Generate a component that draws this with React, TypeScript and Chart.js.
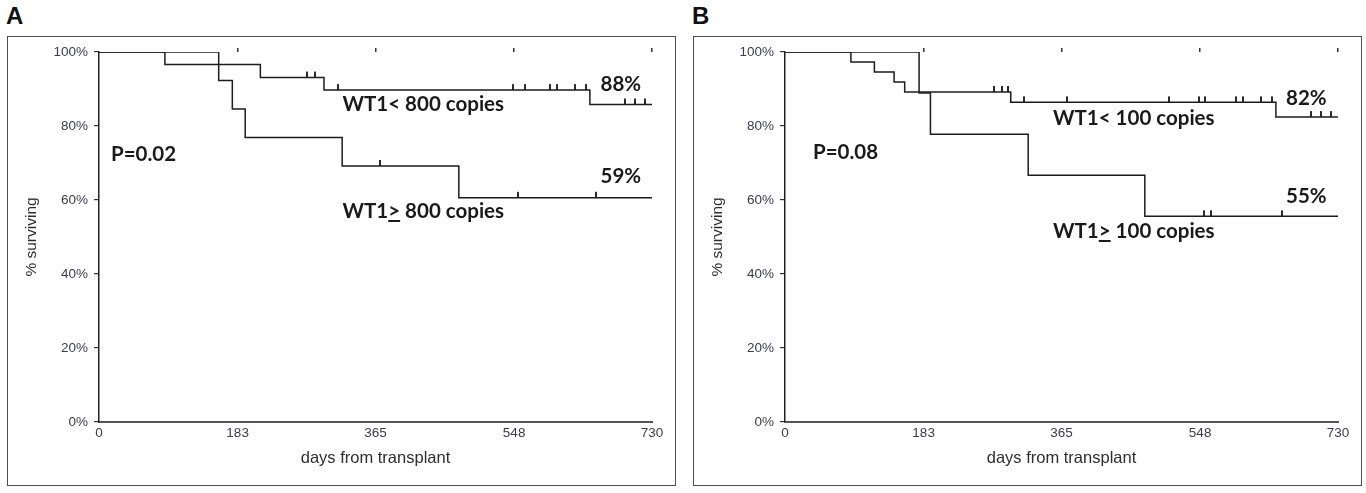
import React, { useEffect, useRef } from "react";
import { Chart, registerables } from "chart.js";

Chart.register(...registerables);

// ---------- data ----------
const X_TICKS = [0, 183, 365, 548, 730];
const X_MAX = 730;
const Y_STEP = 20;

// Panel A
const A_LOW_TIMES = [0, 87, 213, 297, 648, 730];
const A_LOW_SURV = [100, 96.6, 93.1, 89.7, 85.8, 85.8];
const A_LOW_CENSOR = [275, 285, 315, 547, 563, 595, 605, 629, 643, 694, 708, 721];
const A_HIGH_TIMES = [0, 158, 176, 193, 321, 475, 730];
const A_HIGH_SURV = [100, 92.3, 84.6, 76.9, 69.2, 60.6, 60.6];
const A_HIGH_CENSOR = [371, 553, 656];

// Panel B
const B_LOW_TIMES = [0, 87, 118, 144, 158, 298, 648, 730];
const B_LOW_SURV = [100, 97.3, 94.6, 91.9, 89.2, 86.4, 82.4, 82.4];
const B_LOW_CENSOR = [276, 286, 295, 315, 372, 507, 547, 554, 595, 605, 629, 643, 694, 708, 721];
const B_HIGH_TIMES = [0, 177, 192, 321, 475, 730];
const B_HIGH_SURV = [100, 88.9, 77.8, 66.7, 55.6, 55.6];
const B_HIGH_CENSOR = [553, 562, 656];

const X_TITLE = "days from transplant";
const Y_TITLE = "% surviving";

// ---------- helpers ----------
const SANS = "'Liberation Sans', Arial, sans-serif";
const LINE_COLOR = "#1c1c1c";
const TICK_COLOR = "#3b3b4d";

function survivalAt(times: number[], surv: number[], t: number) {
  let v = surv[0];
  for (let i = 0; i < times.length; i++) if (times[i] <= t) v = surv[i];
  return v;
}

let censorImg: HTMLCanvasElement | null = null;
function censorMark() {
  if (censorImg) return censorImg;
  const c = document.createElement("canvas");
  c.width = 2;
  c.height = 14;
  const g = c.getContext("2d")!;
  g.fillStyle = "#2a2a2a";
  g.fillRect(0, 1, 2, 6);
  censorImg = c;
  return c;
}

function curveDataset(times: number[], surv: number[]) {
  return {
    type: "line" as const,
    data: times.map((t, i) => ({ x: t, y: surv[i] })),
    stepped: "before" as const,
    borderColor: LINE_COLOR,
    borderWidth: 1.5,
    pointRadius: 0,
    fill: false,
    xAxisID: "x",
    yAxisID: "y",
  };
}

function censorDataset(times: number[], surv: number[], censor: number[]) {
  return {
    type: "line" as const,
    data: censor.map((t) => ({ x: t, y: survivalAt(times, surv, t) })),
    showLine: false,
    pointStyle: censorMark(),
    pointRadius: 4,
    borderColor: LINE_COLOR,
    backgroundColor: LINE_COLOR,
    xAxisID: "x",
    yAxisID: "y",
  };
}

function setXTicks(scale: any) {
  scale.ticks = X_TICKS.map((v) => ({ value: v }));
}

function makeConfig(
  lowT: number[], lowS: number[], lowC: number[],
  highT: number[], highS: number[], highC: number[]
): any {
  return {
    type: "line",
    data: {
      datasets: [
        curveDataset(lowT, lowS),
        curveDataset(highT, highS),
        censorDataset(lowT, lowS, lowC),
        censorDataset(highT, highS, highC),
      ],
    },
    options: {
      animation: false,
      responsive: false,
      events: [],
      layout: { padding: { left: 0, right: 24, top: 12, bottom: 0 } },
      plugins: { legend: { display: false }, tooltip: { enabled: false } },
      scales: {
        x: {
          type: "linear",
          position: "bottom",
          min: 0,
          max: X_MAX,
          afterBuildTicks: setXTicks,
          afterFit: (s: any) => { s.height = 64; },
          grid: { display: false, drawTicks: false },
          border: { display: true, color: "#555", width: 2 },
          ticks: {
            color: TICK_COLOR,
            font: { family: SANS, size: 13.5 },
            padding: 3,
            maxRotation: 0,
            autoSkip: false,
            callback: (v: any) => String(v),
          },
          title: {
            display: true,
            text: X_TITLE,
            color: "#2e2e2e",
            font: { family: SANS, size: 16.5 },
            padding: { top: 0, bottom: 18 },
          },
        },
        xTop: {
          type: "linear",
          position: "top",
          min: 0,
          max: X_MAX,
          afterBuildTicks: setXTicks,
          afterFit: (s: any) => { s.height = 4; },
          grid: {
            display: true,
            drawOnChartArea: false,
            drawTicks: true,
            tickLength: 4,
            lineWidth: 1.5,
            color: (ctx: any) => (ctx.tick && ctx.tick.value === 0 ? "rgba(0,0,0,0)" : "#333"),
          },
          border: { display: false },
          ticks: { display: false },
        },
        y: {
          type: "linear",
          position: "left",
          min: 0,
          max: 100,
          afterFit: (s: any) => { s.width = 92; },
          grid: {
            display: true,
            drawOnChartArea: false,
            drawTicks: true,
            tickLength: 5,
            color: "#333",
            lineWidth: 1.2,
          },
          border: { display: true, color: "#222", width: 1.5 },
          ticks: {
            stepSize: Y_STEP,
            color: TICK_COLOR,
            font: { family: SANS, size: 13.5 },
            padding: 6,
            callback: (v: any) => v + "%",
          },
          title: {
            display: true,
            text: Y_TITLE,
            color: "#2e2e2e",
            font: { family: SANS, size: 15.5 },
            padding: { top: 15, bottom: 0 },
          },
        },
      },
    },
  };
}

function KMChart({ left, top, config }: { left: number; top: number; config: () => any }) {
  const ref = useRef<HTMLCanvasElement>(null);
  useEffect(() => {
    const chart = new Chart(ref.current!, config());
    return () => chart.destroy();
  }, []);
  return (
    <canvas
      ref={ref}
      width={669}
      height={450}
      style={{ position: "absolute", left, top, width: 669, height: 450 }}
    />
  );
}

const annot: React.CSSProperties = {
  position: "absolute",
  fontFamily: "Lato, 'Open Sans', sans-serif",
  fontWeight: 700,
  fontSize: 20.5,
  lineHeight: "20px",
  whiteSpace: "nowrap",
  color: "#1a1a1a",
};

const panelLabel: React.CSSProperties = {
  position: "absolute",
  fontFamily: SANS,
  fontWeight: 700,
  fontSize: 24,
  lineHeight: "24px",
  color: "#111",
};

const box: React.CSSProperties = {
  position: "absolute",
  top: 36,
  width: 669,
  height: 450,
  boxSizing: "border-box",
  border: "1.5px solid #4e4e4e",
};

export default function App() {
  return (
    <div
      style={{
        position: "absolute",
        left: 0,
        top: 0,
        width: 1366,
        height: 493,
        background: "#fff",
        overflow: "hidden",
      }}
    >
      <div style={{ ...panelLabel, left: 6, top: 4 }}>A</div>
      <div style={{ ...panelLabel, left: 692, top: 4 }}>B</div>

      <div style={{ ...box, left: 7 }} />
      <div style={{ ...box, left: 692.5 }} />

      <KMChart
        left={7}
        top={36}
        config={() => makeConfig(A_LOW_TIMES, A_LOW_SURV, A_LOW_CENSOR, A_HIGH_TIMES, A_HIGH_SURV, A_HIGH_CENSOR)}
      />
      <KMChart
        left={692.5}
        top={36}
        config={() => makeConfig(B_LOW_TIMES, B_LOW_SURV, B_LOW_CENSOR, B_HIGH_TIMES, B_HIGH_SURV, B_HIGH_CENSOR)}
      />

      {/* Panel A annotations */}
      <div style={{ ...annot, left: 600.5, top: 73 }}>88%</div>
      <div style={{ ...annot, left: 342.5, top: 92.7 }}>WT1&lt; 800 copies</div>
      <div style={{ ...annot, left: 111, top: 143 }}>P=0.02</div>
      <div style={{ ...annot, left: 600.5, top: 165.4 }}>59%</div>
      <div style={{ ...annot, left: 342.5, top: 200 }}>
        WT1<span style={{ textDecoration: "underline" }}>&gt;</span> 800 copies
      </div>

      {/* Panel B annotations */}
      <div style={{ ...annot, left: 1286, top: 86.7 }}>82%</div>
      <div style={{ ...annot, left: 1053, top: 106.7 }}>WT1&lt; 100 copies</div>
      <div style={{ ...annot, left: 813, top: 141.4 }}>P=0.08</div>
      <div style={{ ...annot, left: 1286, top: 185.4 }}>55%</div>
      <div style={{ ...annot, left: 1053, top: 220 }}>
        WT1<span style={{ textDecoration: "underline" }}>&gt;</span> 100 copies
      </div>
    </div>
  );
}
